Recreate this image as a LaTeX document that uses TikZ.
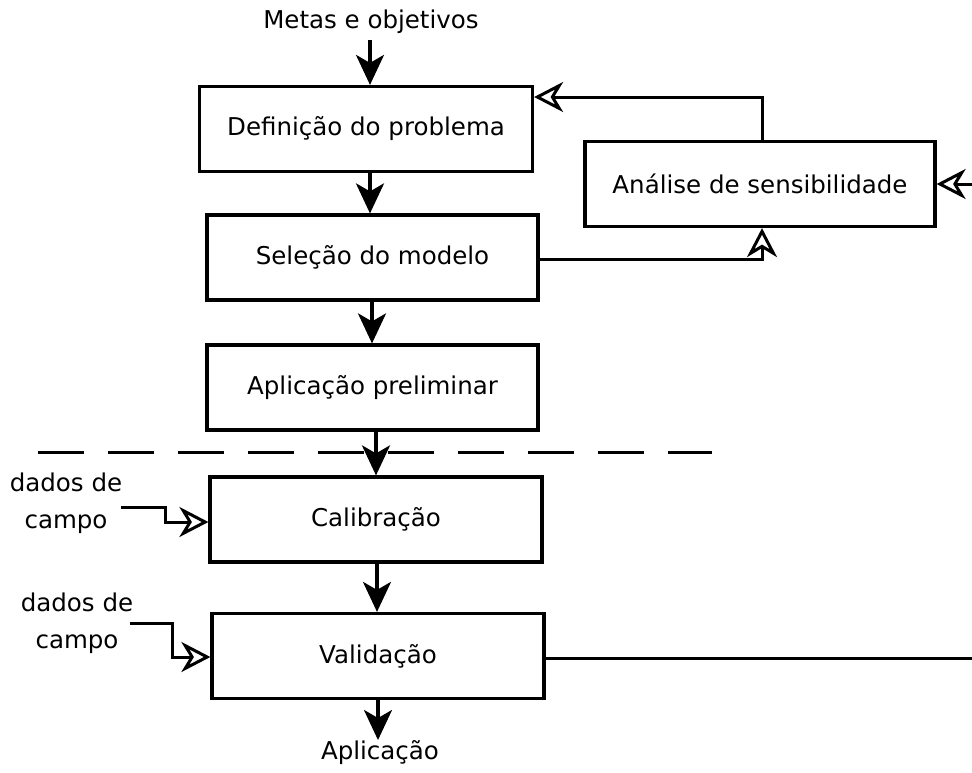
\documentclass[tikz,border=0pt]{standalone}
\usepackage{fontspec}
\setmainfont{DejaVu Sans}
\usetikzlibrary{arrows.meta,calc}
\begin{document}
\begin{tikzpicture}[x=1pt,y=-1pt,
  stepbox/.style={draw, line width=3.2pt, minimum width=#1, minimum height=85pt, inner sep=0pt, font=\fontsize{24.5}{28}\selectfont},
  stepbox/.default=332pt,
  label/.style={font=\fontsize{24.5}{37}\selectfont, inner sep=0pt, align=center},
  flow/.style={line width=3.2pt, -{Stealth[length=30pt,width=28pt,inset=8pt]}},
  feed/.style={line width=3pt, -{Stealth[open,length=29pt,width=30pt,inset=9pt,line width=3pt]}},
  plain/.style={line width=3pt}]
\useasboundingbox (0,0) rectangle (972,772);

% main chain of steps
\node[stepbox=333pt] (def) at (366,129) {Definição do problema};
\node[stepbox=331pt] (sel) at (372.5,257.5) {Seleção do modelo};
\node[stepbox=331pt] (apl) at (372.5,387.5) {Aplicação preliminar};
\node[stepbox] (cal) at (376,519.5) {Calibração};
\node[stepbox] (val) at (378,656) {Validação};
\node[stepbox=350pt] (ana) at (760,184) {Análise de sensibilidade};

% input and output labels
\node[label] (metas) at (371,22) {Metas e objetivos};
\node[label] (apfinal) at (380,753) {Aplicação};
\node[label] (dc1) at (66,503) {dados de\\campo};
\node[label] (dc2) at (77,623) {dados de\\campo};

% vertical flow arrows
\coordinate (metasout) at (370,40);
\coordinate (apfinalin) at (378,740);
\draw[flow] (metasout) -- (370,0 |- def.north);
\draw[flow] (370,0 |- def.south) -- (370,0 |- sel.north);
\draw[flow] (372,0 |- sel.south) -- (372,0 |- apl.north);
\draw[flow] (376,0 |- apl.south) -- (376,0 |- cal.north);
\draw[flow] (377,0 |- cal.south) -- (377,0 |- val.north);
\draw[flow] (378,0 |- val.south) -- (apfinalin);

% dashed separator
\coordinate (sepL) at (38,452);
\coordinate (sepR) at (712,452);
\draw[line width=3pt, dash pattern=on 46pt off 24pt] (sepL) -- (sepR);

% sensitivity loop
\coordinate (selout) at ($(sel.east)+(0,2)$);
\draw[feed] (selout) -| (762,0 |- ana.south);
\draw[feed] (762,0 |- ana.north) |- (def.east |- 0,97);

% validation feeds back into the sensitivity analysis
\coordinate (rightedge) at (975,658);
\coordinate (anain) at (975,184);
\draw[plain] (val.east |- 0,658) -- (rightedge);
\draw[feed] (anain) -- (ana.east);

% field data inputs
\coordinate (d1a) at (121,507);
\coordinate (d1b) at (165,507);
\coordinate (d2a) at (130,623);
\coordinate (d2b) at (172,623);
\draw[feed] (d1a) -- (d1b) |- (cal.west |- 0,522);
\draw[feed] (d2a) -- (d2b) |- (val.west |- 0,657);
\end{tikzpicture}
\end{document}
